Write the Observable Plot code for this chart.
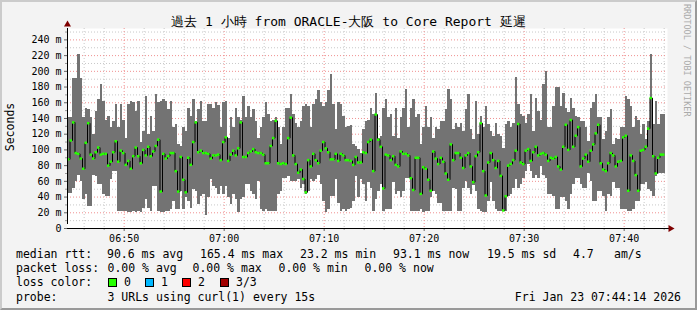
<!DOCTYPE html>
<html><head><meta charset="utf-8">
<script src="https://cdn.jsdelivr.net/npm/d3@7"></script>
<script src="https://cdn.jsdelivr.net/npm/@observablehq/plot@0.6"></script>
<style>
body{margin:0;background:#fff;}
#wrap{position:relative;width:697px;height:310px;background:#f3f3f3;overflow:hidden;font-family:"DejaVu Sans Mono",monospace;color:#000;}
#wrap .t{position:absolute;white-space:pre;font-size:11.5px;line-height:14px;}
#wrap svg{position:absolute;left:0;top:0;}
#border{position:absolute;left:0;top:0;width:697px;height:310px;box-sizing:border-box;border-top:2px solid #cbcbcb;border-left:2px solid #cbcbcb;border-right:2px solid #999;border-bottom:2px solid #999;pointer-events:none;}
.box{position:absolute;width:7px;height:7px;border:1px solid #000;}
</style></head><body>
<div id="wrap"></div>
<script>
// ---- data (ms), one value per 15 s step ----
const maxMs = [
141,141,191,191,221,191,141,153,151,141,119,149,164,183,162,138,143,128,136,158,128,158,138,115,158,162,160,149,162,109,124,168,119,143,124,170,160,162,164,162,151,162,128,132,107,104,128,124,
153,143,164,136,151,162,136,136,158,158,153,160,157,128,160,161,115,141,128,153,141,138,168,141,155,141,151,136,115,128,141,160,145,136,138,141,128,107,128,153,153,170,145,134,128,136,155,158,
155,128,158,164,175,160,155,160,175,196,158,126,160,158,143,128,130,131,107,104,100,96,126,136,138,153,145,172,115,117,153,164,141,145,117,153,115,141,153,177,128,153,164,141,145,107,128,155,
128,141,115,128,126,136,136,151,177,164,126,134,128,134,124,151,170,126,113,161,119,143,128,155,132,124,117,134,119,117,102,132,136,128,134,192,158,145,143,134,145,170,124,166,149,138,183,200,
128,128,155,179,179,155,172,153,147,166,153,143,141,136,136,128,111,153,160,170,141,141,113,124,141,151,107,115,113,128,128,168,164,155,128,143,138,119,132,113,136,221,132,162,132,145,145];
const minMs = [
45,45,51,60,68,60,37,43,28,28,68,66,56,56,43,41,41,62,73,73,22,22,22,22,20,20,22,20,22,20,26,37,26,22,53,53,22,20,20,22,22,24,34,24,24,47,24,40,
34,26,49,47,30,41,43,17,39,62,53,51,43,53,43,53,39,30,43,37,20,37,39,56,56,47,43,37,60,24,22,24,22,22,22,22,43,47,64,64,66,60,60,60,62,51,56,43,
47,62,60,62,68,56,34,20,24,41,41,62,32,22,24,22,24,26,34,66,39,62,56,34,58,51,22,37,47,56,22,24,24,24,58,43,47,39,47,64,64,22,22,22,22,24,20,22,
22,39,47,43,32,32,22,22,22,22,51,49,22,22,51,60,51,43,55,47,24,22,20,20,34,58,34,24,22,22,22,22,41,43,51,62,51,56,64,73,81,73,64,68,64,79,68,64,
43,43,41,24,24,39,39,34,24,43,56,64,64,56,51,51,70,60,34,34,47,47,41,22,43,41,58,51,51,24,24,24,22,22,24,34,34,56,56,58,49,47,41,66,70,70,70];
const medMs = [
88,112,135,96,95,89,76,109,134,94,89,97,103,94,95,95,80,85,97,111,85,99,96,81,86,76,92,103,92,83,100,93,104,92,98,105,113,47,95,89,92,96,96,73,47,91,62,46,
90,81,110,135,97,99,96,96,95,89,93,93,94,87,110,116,86,94,99,93,102,135,91,91,96,98,101,97,96,96,94,83,83,105,115,137,83,82,83,82,115,141,93,82,71,75,63,46,
87,79,95,87,83,99,110,102,97,88,88,95,86,95,93,87,87,86,81,91,84,84,97,96,110,113,73,145,113,104,51,94,93,87,92,81,79,98,95,95,93,64,49,90,90,44,78,76,
62,48,98,89,82,90,85,70,62,107,87,96,96,90,77,93,96,79,59,92,97,134,73,42,84,96,87,77,86,67,23,41,80,82,87,99,133,84,82,99,101,86,97,104,93,95,96,94,
86,90,89,91,79,75,104,132,100,138,104,118,129,79,89,94,85,99,107,121,132,83,75,73,83,96,93,79,85,86,116,118,48,93,86,68,48,99,100,104,127,166,92,70,90,94,94];

const startUTC = Date.UTC(2026, 0, 23, 6, 44, 20);
const stepSec = 15;
const spanSec = 3600;
const yLabelValues = [0,20,40,60,80,100,120,140,160,180,200,220,240];
const xLabelTimes = ["06:50","07:00","07:10","07:20","07:30","07:40"];

const titleText = "過去 1 小時 from ORACLE-大阪 to Core Report 延遲";
const yTitle = "Seconds";
const statRow1 = [["median rtt:",16],["90.6 ms avg",107],["165.4 ms max",200],["23.2 ms min",300],["93.1 ms now",393],["19.5 ms sd",487],["4.7",573],["am/s",614]];
const statRow2 = [["packet loss:",16],["0.00 % avg",107.5],["0.00 % max",192.5],["0.00 % min",278.5],["0.00 % now",364.5]];
const lossLabels = ["0","1","2","3/3"];
const lossColors = ["#26ff00","#00b8ff","#ff0000","#a10000"];
const probeText = "3 URLs using curl(1) every 15s";
const dateText = "Fri Jan 23 07:44:14 2026";
const watermark = "RRDTOOL / TOBI OETIKER";

// ---- build ----
const data = medMs.map((m, i) => ({
  t: new Date(startUTC + i * stepSec * 1000),
  t2: new Date(startUTC + (i + 1) * stepSec * 1000),
  hi: maxMs[i], lo: minMs[i], med: m
}));
const xDomain = [new Date(startUTC), new Date(startUTC + spanSec * 1000)];
const toTime = s => { const [h, m] = s.split(":").map(Number); return new Date(Date.UTC(2026, 0, 23, h, m)); };
const majorX = xLabelTimes.map(toTime);
const minorX = d3.utcMinute.every(2).range(xDomain[0], xDomain[1]).filter(d => d.getUTCMinutes() % 10 !== 0);
const majorY = yLabelValues.filter(v => v > 0);
const minorY = d3.range(10, 260, 20);

const plot = Plot.plot({
  width: 697, height: 245,
  marginLeft: 67, marginRight: 30, marginTop: 28, marginBottom: 17,
  style: {background: "transparent", fontFamily: "DejaVu Sans Mono", fontSize: "10px", color: "#000", overflow: "visible"},
  x: {type: "utc", domain: xDomain},
  y: {domain: [0, 254.5]},
  marks: [
    Plot.frame({fill: "#fff", stroke: "none"}),
    Plot.ruleY(minorY, {stroke: "#c8c8c8", strokeDasharray: "1,2"}),
    Plot.ruleX(minorX, {stroke: "#c8c8c8", strokeDasharray: "1,2"}),
    Plot.ruleY(majorY, {stroke: "#f09090", strokeDasharray: "1,2"}),
    Plot.ruleX(majorX, {stroke: "#f09090", strokeDasharray: "1,2"}),
    Plot.rect(data, {x1: "t", x2: "t2", y1: "lo", y2: "hi", fill: "#737373", shapeRendering: "crispEdges"}),
    Plot.line(data, {x: "t", y: "med", curve: "step-after", stroke: "#000", strokeWidth: 1}),
    Plot.ruleY(data, {y: "med", x1: "t", x2: "t2", stroke: "#26ff00", strokeWidth: 2.5}),
    Plot.axisY(minorY, {tickSize: 2, tickFormat: () => "", label: null, stroke: "#999"}),
    Plot.axisY(yLabelValues, {tickSize: 3, tickPadding: 3, tickFormat: d => d === 0 ? "0" : d + " m", label: null, fontSize: 10, stroke: "#666"}),
    Plot.axisX(minorX, {tickSize: 2, tickFormat: () => "", label: null, stroke: "#999"}),
    Plot.axisX(majorX, {tickSize: 3, tickPadding: 3, tickFormat: d3.utcFormat("%H:%M"), label: null, fontSize: 10, stroke: "#666"}),
    Plot.ruleY([0], {stroke: "#000", insetRight: -2}),
    Plot.ruleX([xDomain[0]], {stroke: "#000", y1: 0, y2: 254.5, insetTop: -4}),
    Plot.dot([0], {frameAnchor: "top-left", symbol: "triangle", r: 2.6, dy: -4, fill: "#7f0000", stroke: "none"}),
    Plot.dot([0], {frameAnchor: "bottom-right", symbol: "triangle", rotate: 90, r: 2.6, dx: 3, fill: "#7f0000", stroke: "none"})
  ]
});

const wrap = document.getElementById("wrap");
wrap.appendChild(plot);

function addText(txt, x, y, extra) {
  const d = document.createElement("div");
  d.className = "t";
  d.textContent = txt;
  d.style.left = x + "px";
  d.style.top = y + "px";
  if (extra) Object.assign(d.style, extra);
  wrap.appendChild(d);
  return d;
}
// title
addText(titleText, 0, 14, {width: "697px", textAlign: "center", fontSize: "13px", lineHeight: "16px"});
// y title
addText(yTitle, -40, 120, {width: "100px", textAlign: "center", transform: "rotate(-90deg)"});
// watermark
addText(watermark, 682, 4, {writingMode: "vertical-rl", fontSize: "8.5px", lineHeight: "10px", color: "#aaa"});
// legend rows
statRow1.forEach(([s, x]) => addText(s, x, 247));
statRow2.forEach(([s, x]) => addText(s, x, 261));
addText("loss color:", 16, 275);
const boxX = [108, 145, 182, 220];
lossLabels.forEach((l, i) => {
  const b = document.createElement("div");
  b.className = "box";
  b.style.left = boxX[i] + "px";
  b.style.top = "278px";
  b.style.background = lossColors[i];
  wrap.appendChild(b);
  addText(l, boxX[i] + 16, 275);
});
addText("probe:", 16, 290);
addText(probeText, 107.5, 290);
addText(dateText, 0, 290, {width: "681px", textAlign: "right"});

const border = document.createElement("div");
border.id = "border";
wrap.appendChild(border);
</script>
</body></html>
